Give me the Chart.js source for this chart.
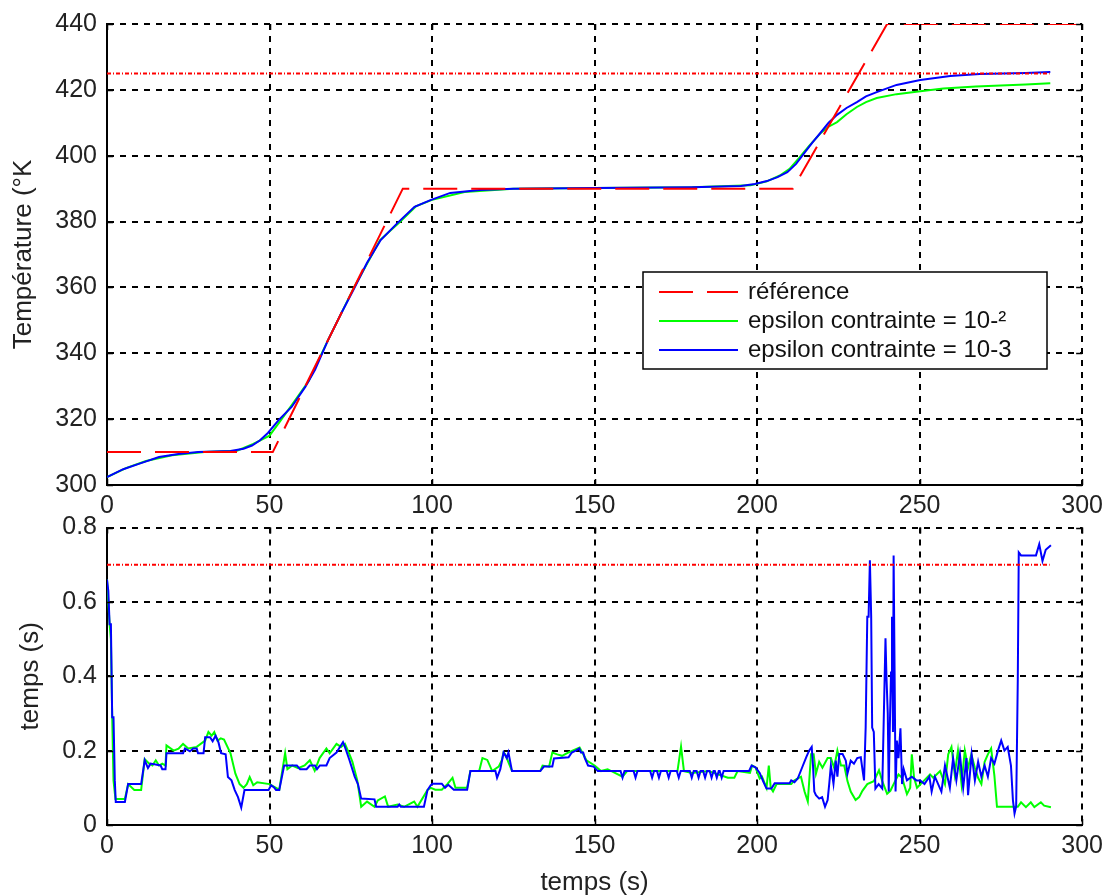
<!DOCTYPE html>
<html>
<head>
<meta charset="utf-8">
<script src="https://cdn.jsdelivr.net/npm/chart.js@4.4.0/dist/chart.umd.min.js"></script>
<style>
html, body { margin: 0; padding: 0; background: #fff; overflow: hidden; }
#cadre { position: relative; width: 1112px; height: 895px; }
#graphHaut { position: absolute; left: 0; top: 0; }
#graphBas { position: absolute; left: 0; top: 505px; }
</style>
</head>
<body>
<div id="cadre">
  <canvas id="graphHaut" width="1112" height="520"></canvas>
  <canvas id="graphBas" width="1112" height="390"></canvas>
</div>
<script>
// graduations
var gradTemps = [0, 50, 100, 150, 200, 250, 300];
var gradTemperature = [300, 320, 340, 360, 380, 400, 420, 440];
var gradCalcul = [0, 0.2, 0.4, 0.6, 0.8];

// température de référence
var tRef = [0, 51, 91, 211, 240, 300];
var tempRef = [310, 310, 390, 390, 440, 440];

// limite de température
var tLimHaut = [0, 290];
var tempLim = [425, 425];

// température, epsilon contrainte = 10-3
var tBleuHaut = [0, 5, 10, 16, 22, 28, 38, 42, 44.6, 47, 49.5, 52.8, 56.8, 61, 64, 68, 72, 76.3, 80, 84.2,
  89.4, 94.6, 99.5, 105.6, 114.7, 125, 150, 180, 195, 199.3, 203, 206.3, 209.3, 212, 214.5, 217, 219.7,
  222, 224.6, 227.5, 230.7, 233.5, 236.8, 242.9, 250.2, 259.4, 268.5, 282.6, 290.2];
var tempBleu = [302.4, 304.8, 306.5, 308.5, 309.4, 310, 310.3, 311, 312, 313.5, 315.8, 319.7, 323.7, 329.8, 335, 344, 352, 360.2, 367.5, 374.4,
  379.6, 384.5, 386.5, 388.7, 389.6, 390, 390.2, 390.4, 390.8, 391.4, 392.3, 393.5, 395, 397.5, 400.8, 404, 407.2,
  410, 412.4, 414.5, 416.3, 418, 419.3, 421.5, 423, 424.2, 424.8, 425.1, 425.4];

// température, epsilon contrainte = 10-2
var tVertHaut = [0, 6, 12, 20, 30, 40, 45, 50, 53, 57, 62, 68, 76, 84, 90, 95, 100, 110, 125, 150, 180, 198,
  203, 207, 210, 213, 216, 219.7, 222, 224.6, 227.5, 230.7, 233.5, 236.8, 242.9, 250.2, 257.3, 267.3, 282.6, 290.2];
var tempVert = [302.4, 305.2, 307.3, 309, 310, 310.4, 312.5, 315, 319, 324.5, 331.5, 344, 360, 374.4, 379.8, 384.6, 386.6, 389, 390, 390.2, 390.4, 391,
  392.2, 394, 396, 399.4, 403, 407, 408.8, 410.2, 412.6, 414.8, 416.3, 417.5, 418.7, 419.6, 420.4, 421, 421.6, 422];

// temps de calcul, epsilon contrainte = 10-3
var tBleuBas = [0, 0.4, 0.8, 1.2, 1.6, 2, 2.4, 2.7, 5.5, 6.5, 10.5, 11.6, 12.6, 13.4, 16.5, 17, 18, 18.3, 23.4, 24,
  25.5, 26.5, 27.6, 28, 29.7, 30.2, 31.7, 32.5, 33.4, 34.3, 35.1, 36.5, 37.2, 38.3, 39.3, 40.3, 41.3, 42.3, 49.7, 50.5,
  51.5, 52, 53, 54.5, 58.4, 59.4, 61.4, 62.4, 64, 64.6, 65.5, 67.5, 68.5, 70.6, 72.6, 73.2, 74.6, 76.2, 77.2, 78.2,
  82.3, 82.8, 89.4, 89.9, 90.4, 97.5, 98.6, 99.6, 100.2, 103, 104, 105, 106.7, 110.8, 111.8, 119.5, 120, 121, 122, 123,
  123.5, 124.6, 133.3, 134.4, 137, 137.5, 142, 143, 144.2, 145.3, 145.8, 146.5, 147, 148, 149.7, 151, 158, 158.6, 159.2, 162,
  162.6, 163.2, 167.1, 167.7, 168.3, 169.2, 169.8, 170.4, 172.2, 172.8, 173.4, 175.3, 175.9, 176.5, 179.3, 179.9, 180.5, 181.4, 182, 182.6,
  183.4, 184, 184.6, 185.4, 186, 186.6, 187, 187.6, 188.2, 188.5, 189.1, 189.7, 197.5, 198.3, 199.5, 200.8, 201.9, 202.9, 204.4, 205.4,
  210, 210.5, 211.5, 212.5, 214.1, 215.1, 216, 216.8, 217.2, 217.6, 218.1, 219.1, 220, 220.9, 221.7, 222.2, 222.7, 223.5, 224.2, 224.7,
  225.3, 226.3, 227.3, 227.8, 228.8, 229.8, 230.8, 231.9, 232.4, 232.9, 233.4, 233.9, 234.3, 234.7, 235.1, 235.4, 235.9, 236.4, 237.4, 238.5,
  239, 239.5, 239.8, 240.2, 240.5, 240.8, 241.2, 241.5, 241.8, 242, 242.3, 242.6, 243, 243.5, 244.1, 244.6, 245.1, 246.1, 247.6, 249,
  250.2, 251.5, 253, 253.7, 254.7, 256.7, 257.8, 259.3, 260.3, 261.3, 262.4, 263.4, 264.4, 264.9, 266, 267, 268, 269, 270, 271,
  272, 273, 274.1, 275.1, 276.1, 277.1, 278.1, 278.7, 279.2, 279.7, 280.2, 280.5, 281.2, 285.8, 286.8, 287.8, 288.8, 290.4];
var calculBleu = [0.66, 0.63, 0.54, 0.54, 0.29, 0.29, 0.12, 0.062, 0.062, 0.11, 0.11, 0.174, 0.153, 0.165, 0.16, 0.15, 0.15, 0.193, 0.193, 0.206,
  0.198, 0.206, 0.206, 0.193, 0.193, 0.236, 0.236, 0.225, 0.24, 0.222, 0.193, 0.19, 0.129, 0.12, 0.094, 0.075, 0.047, 0.094, 0.094, 0.107,
  0.1, 0.094, 0.094, 0.16, 0.16, 0.15, 0.15, 0.16, 0.16, 0.15, 0.16, 0.16, 0.18, 0.195, 0.223, 0.21, 0.174, 0.13, 0.11, 0.071,
  0.069, 0.049, 0.049, 0.055, 0.049, 0.049, 0.094, 0.107, 0.111, 0.111, 0.1, 0.108, 0.095, 0.095, 0.145, 0.145, 0.127, 0.15, 0.195, 0.18,
  0.195, 0.145, 0.145, 0.157, 0.157, 0.179, 0.182, 0.195, 0.2, 0.206, 0.195, 0.195, 0.18, 0.16, 0.157, 0.145, 0.145, 0.127, 0.145, 0.145,
  0.127, 0.145, 0.145, 0.127, 0.145, 0.145, 0.127, 0.145, 0.145, 0.127, 0.145, 0.145, 0.127, 0.145, 0.145, 0.127, 0.145, 0.145, 0.127, 0.145,
  0.145, 0.127, 0.145, 0.145, 0.127, 0.145, 0.145, 0.127, 0.145, 0.145, 0.127, 0.145, 0.145, 0.16, 0.155, 0.14, 0.117, 0.098, 0.098, 0.112,
  0.112, 0.12, 0.115, 0.125, 0.16, 0.182, 0.2, 0.21, 0.16, 0.09, 0.08, 0.071, 0.075, 0.049, 0.067, 0.111, 0.16, 0.111, 0.173, 0.13,
  0.191, 0.191, 0.173, 0.138, 0.173, 0.165, 0.18, 0.182, 0.15, 0.12, 0.262, 0.56, 0.56, 0.712, 0.56, 0.262, 0.25, 0.098, 0.11, 0.098,
  0.299, 0.502, 0.398, 0.3, 0.09, 0.25, 0.41, 0.56, 0.25, 0.725, 0.413, 0.09, 0.227, 0.18, 0.26, 0.11, 0.15, 0.12, 0.13, 0.12,
  0.12, 0.11, 0.13, 0.09, 0.13, 0.09, 0.16, 0.1, 0.18, 0.12, 0.19, 0.1, 0.18, 0.08, 0.19, 0.12, 0.17, 0.13, 0.16, 0.13,
  0.18, 0.165, 0.2, 0.227, 0.2, 0.21, 0.16, 0.067, 0.031, 0.05, 0.39, 0.733, 0.725, 0.725, 0.755, 0.71, 0.74, 0.752];

// temps de calcul, epsilon contrainte = 10-2
var tVertBas = [0, 0.8, 1.2, 1.6, 2, 2.6, 5.5, 6.5, 8.4, 10.5, 11.6, 13, 14, 15, 16, 17, 18, 18.3, 20.5, 22,
  23.4, 25, 27.6, 30.2, 31.2, 32.2, 33, 34, 35, 36, 38, 39.5, 40.8, 42, 43, 43.9, 45, 46.2, 50, 52,
  53, 54.8, 55.5, 57, 58.8, 60.8, 62.4, 63.9, 65.4, 67.5, 68.5, 70.6, 72, 73.2, 74.6, 75.5, 77, 78.2, 80, 82.3,
  83.3, 85.5, 86.5, 89.4, 91.4, 94.5, 95.5, 98.6, 99.6, 101, 103, 104.7, 106.3, 107.2, 110.8, 111.8, 114.5, 115.5, 117, 118.5,
  120.5, 121.5, 122, 122.5, 124.6, 133.3, 134, 136, 137, 138.5, 140, 142, 145.4, 147.5, 150, 152, 154, 158.6, 160, 170,
  175.5, 176.6, 177.5, 180, 185, 191, 193, 194, 197.8, 198.5, 199.5, 200.8, 201.5, 202.9, 203.6, 204.2, 204.9, 206, 210.5, 211.5,
  213.5, 214.6, 215.6, 216.6, 217.4, 218.1, 219.1, 220.1, 221.7, 222.7, 223.7, 224.7, 225.8, 226.8, 227.8, 228.8, 230.3, 231.4, 232.4, 233.9,
  235.9, 237.5, 238.5, 240, 241, 242, 243.5, 244.6, 246.1, 247.1, 247.6, 248.3, 249.2, 251.2, 253.2, 254.2, 256.3, 257.8, 258.8, 259.8,
  260.8, 261.8, 262.9, 263.9, 264.9, 265.9, 267, 268, 269, 270, 271, 272, 273, 273.8, 280.2, 281.2, 282.7, 284.2, 285.3, 287.3,
  288.3, 290.4];
var calculVert = [0.66, 0.54, 0.5, 0.29, 0.12, 0.07, 0.07, 0.11, 0.094, 0.094, 0.177, 0.165, 0.16, 0.174, 0.16, 0.165, 0.16, 0.214, 0.2, 0.205,
  0.218, 0.206, 0.21, 0.227, 0.25, 0.24, 0.25, 0.227, 0.233, 0.23, 0.193, 0.138, 0.11, 0.1, 0.11, 0.129, 0.107, 0.115, 0.11, 0.1,
  0.095, 0.193, 0.15, 0.16, 0.153, 0.16, 0.174, 0.146, 0.18, 0.206, 0.193, 0.218, 0.21, 0.218, 0.19, 0.17, 0.12, 0.049, 0.063, 0.049,
  0.066, 0.077, 0.049, 0.055, 0.049, 0.063, 0.049, 0.094, 0.1, 0.095, 0.095, 0.11, 0.127, 0.1, 0.1, 0.145, 0.145, 0.18, 0.175, 0.145,
  0.157, 0.175, 0.195, 0.19, 0.145, 0.145, 0.16, 0.157, 0.195, 0.19, 0.186, 0.195, 0.208, 0.174, 0.16, 0.145, 0.15, 0.13, 0.145, 0.145,
  0.145, 0.211, 0.145, 0.14, 0.145, 0.127, 0.127, 0.145, 0.14, 0.16, 0.155, 0.125, 0.13, 0.1, 0.16, 0.1, 0.09, 0.11, 0.11, 0.12,
  0.13, 0.09, 0.063, 0.19, 0.19, 0.138, 0.17, 0.154, 0.18, 0.18, 0.154, 0.2, 0.16, 0.16, 0.118, 0.09, 0.067, 0.075, 0.092, 0.11,
  0.118, 0.147, 0.118, 0.084, 0.092, 0.11, 0.136, 0.127, 0.083, 0.1, 0.19, 0.127, 0.1, 0.118, 0.136, 0.127, 0.145, 0.11, 0.19, 0.21,
  0.136, 0.2, 0.11, 0.2, 0.154, 0.19, 0.154, 0.127, 0.11, 0.17, 0.19, 0.206, 0.133, 0.049, 0.049, 0.061, 0.048, 0.061, 0.048, 0.061,
  0.052, 0.048];

// limite du temps de calcul
var tLimBas = [0, 290];
var calculLim = [0.7, 0.7];

var ROUGE = '#ff0000';
var VERT = '#00ff00';
var BLEU = '#0000ff';
var police = 'Liberation Sans, Arial, Helvetica, sans-serif';

function points(xs, ys) {
    return xs.map(function (x, i) { return { x: x, y: ys[i] }; });
}

// petites graduations tournées vers l'intérieur, sur les 4 côtés (style Matlab)
var tiretsInternes = {
    id: 'tiretsInternes',
    afterDraw: function (chart) {
        var ctx = chart.ctx, a = chart.chartArea, L = 6;
        var sx = chart.scales.x, sy = chart.scales.y;
        ctx.save();
        ctx.strokeStyle = '#000';
        ctx.lineWidth = 1.5;
        ctx.beginPath();
        sx.ticks.forEach(function (t) {
            var px = Math.round(sx.getPixelForValue(t.value)) + 0.5;
            ctx.moveTo(px, a.bottom); ctx.lineTo(px, a.bottom - L);
            ctx.moveTo(px, a.top); ctx.lineTo(px, a.top + L);
        });
        sy.ticks.forEach(function (t) {
            var py = Math.round(sy.getPixelForValue(t.value)) + 0.5;
            ctx.moveTo(a.left, py); ctx.lineTo(a.left + L, py);
            ctx.moveTo(a.right, py); ctx.lineTo(a.right - L, py);
        });
        ctx.stroke();
        ctx.restore();
    }
};

// légende dessinée dans la zone du graphe (comme Matlab)
var legendeInterne = {
    id: 'legendeInterne',
    afterDatasetsDraw: function (chart, args, opts) {
        if (!opts.afficher) return;
        var ctx = chart.ctx;
        var items = chart.data.datasets.filter(function (d) { return d.rangLegende !== undefined; })
            .sort(function (a, b) { return a.rangLegende - b.rangLegende; });
        var x0 = 643, y0 = 272, w = 404, h = 97, pas = 29;
        ctx.save();
        ctx.fillStyle = '#fff';
        ctx.fillRect(x0, y0, w, h);
        ctx.strokeStyle = '#000';
        ctx.lineWidth = 1.5;
        ctx.strokeRect(x0, y0, w, h);
        ctx.font = '24px ' + police;
        ctx.textBaseline = 'middle';
        items.forEach(function (d, i) {
            var y = y0 + 20 + i * pas;
            ctx.strokeStyle = d.borderColor;
            ctx.lineWidth = 2;
            ctx.setLineDash(d.borderDash || []);
            ctx.beginPath();
            ctx.moveTo(x0 + 16, y);
            ctx.lineTo(x0 + 95, y);
            ctx.stroke();
            ctx.setLineDash([]);
            ctx.fillStyle = '#111';
            ctx.fillText(d.label, x0 + 105, y);
        });
        ctx.restore();
    }
};

function echelleX(titre, hauteur) {
    return {
        type: 'linear', min: 0, max: 300,
        afterBuildTicks: function (s) { s.ticks = gradTemps.map(function (v) { return { value: v }; }); },
        afterFit: function (s) { s.height = hauteur; },
        grid: { color: '#000', lineWidth: 2, drawTicks: false },
        border: { display: true, color: '#000', width: 2, dash: [6, 6] },
        ticks: {
            color: '#222', padding: 9, maxRotation: 0, autoSkip: false,
            font: { family: police, size: 25, lineHeight: 1 },
            callback: function (v) { return String(v); }
        },
        title: {
            display: titre, text: 'temps (s)', color: '#222',
            font: { family: police, size: 26, lineHeight: 0.92 },
            padding: { top: 0, bottom: 0 }
        }
    };
}

function echelleY(grad, titre, decalTitre) {
    return {
        type: 'linear', min: grad[0], max: grad[grad.length - 1],
        afterBuildTicks: function (s) { s.ticks = grad.map(function (v) { return { value: v }; }); },
        afterFit: function (s) { s.width = 107; },
        grid: { color: '#000', lineWidth: 2, drawTicks: false },
        border: { display: true, color: '#000', width: 2, dash: [6, 6] },
        ticks: {
            color: '#222', padding: 10, autoSkip: false,
            font: { family: police, size: 25, lineHeight: 1 },
            callback: function (v) { return String(v); }
        },
        title: {
            display: true, text: titre, color: '#222',
            font: { family: police, size: 26, lineHeight: 1 },
            padding: { top: decalTitre, bottom: 0 }
        }
    };
}

function courbe(label, xs, ys, couleur, ordre, extra) {
    var d = {
        label: label,
        data: points(xs, ys),
        borderColor: couleur,
        borderWidth: 2,
        pointRadius: 0,
        tension: 0,
        fill: false,
        order: ordre
    };
    for (var k in extra) d[k] = extra[k];
    return d;
}

Chart.defaults.animation = false;

new Chart(document.getElementById('graphHaut').getContext('2d'), {
    type: 'line',
    data: {
        datasets: [
            courbe('référence', tRef, tempRef, ROUGE, 0, { borderDash: [34, 14], rangLegende: 0 }),
            courbe('limite', tLimHaut, tempLim, ROUGE, 1, { borderDash: [4, 2, 1, 2], borderWidth: 2 }),
            courbe('epsilon contrainte = 10-3', tBleuHaut, tempBleu, BLEU, 2, { rangLegende: 2 }),
            courbe('epsilon contrainte = 10-²', tVertHaut, tempVert, VERT, 3, { rangLegende: 1 })
        ]
    },
    options: {
        responsive: false,
        layout: { padding: { top: 24, right: 22, left: 0, bottom: 0 } },
        plugins: { legend: { display: false }, tooltip: { enabled: false }, legendeInterne: { afficher: true } },
        scales: {
            x: echelleX(false, 35),
            y: echelleY(gradTemperature, 'Température (°K', 11)
        }
    },
    plugins: [legendeInterne, tiretsInternes]
});

new Chart(document.getElementById('graphBas').getContext('2d'), {
    type: 'line',
    data: {
        datasets: [
            courbe('limite', tLimBas, calculLim, ROUGE, 0, { borderDash: [4, 2, 1, 2], borderWidth: 2 }),
            courbe('epsilon contrainte = 10-3', tBleuBas, calculBleu, BLEU, 1, {}),
            courbe('epsilon contrainte = 10-²', tVertBas, calculVert, VERT, 2, {})
        ]
    },
    options: {
        responsive: false,
        layout: { padding: { top: 20, right: 22, left: 0, bottom: 0 } },
        plugins: { legend: { display: false }, tooltip: { enabled: false }, legendeInterne: { afficher: false } },
        scales: {
            x: echelleX(true, 70),
            y: echelleY(gradCalcul, 'temps (s)', 18)
        }
    },
    plugins: [legendeInterne, tiretsInternes]
});
</script>
</body>
</html>
